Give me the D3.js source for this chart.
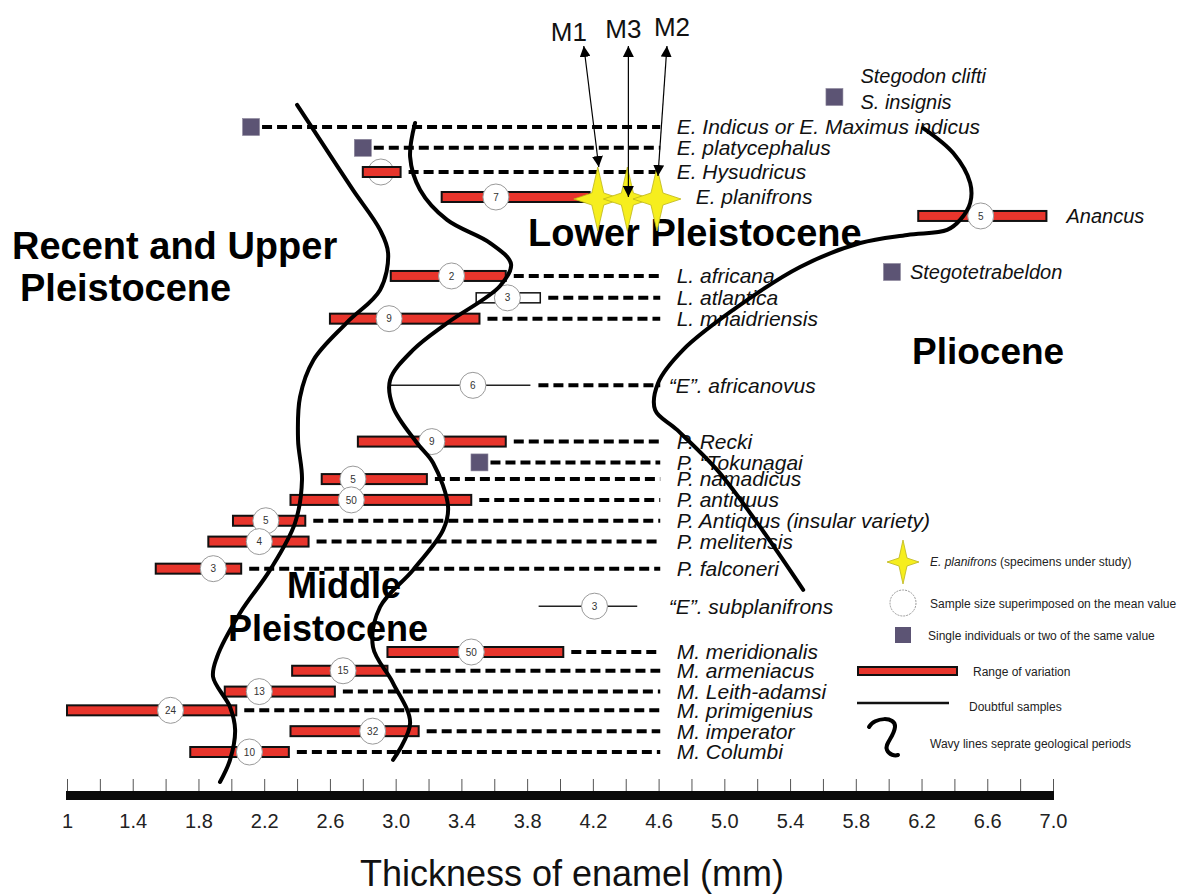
<!DOCTYPE html>
<html>
<head>
<meta charset="utf-8">
<script src="https://cdn.jsdelivr.net/npm/d3@7"></script>
<style>
  body { margin: 0; background: #fff; }
  svg { display: block; font-family: "Liberation Sans", Arial, Helvetica, sans-serif; }
</style>
</head>
<body>
<svg id="chart" width="1199" height="895"></svg>
<script>
// ---- data (enamel thickness, mm) ----
const species = [
  "E. Indicus or E. Maximus indicus", "E. platycephalus", "E. Hysudricus", "E. planifrons",
  "Anancus", "Stegodon clifti|S. insignis", "Stegotetrabeldon",
  "L. africana", "L. atlantica", "L. mnaidriensis", "\u201cE\u201d. africanovus",
  "P. Recki", "P. \u201cTokunagai", "P. namadicus", "P. antiquus", "P. Antiquus (insular variety)",
  "P. melitensis", "P. falconeri", "\u201cE\u201d. subplanifrons",
  "M. meridionalis", "M. armeniacus", "M. Leith-adamsi", "M. primigenius", "M. imperator", "M. Columbi"
];
// vertical order (row units, not evenly spaced in the original)
const rows = [0, 1, 2.16, 3.36, 4.27, -1.44, 6.96, 7.15, 8.2, 9.2, 12.4,
  15.1, 16.1, 16.9, 17.9, 18.9, 19.9, 21.2, 23.0, 25.2, 26.1, 27.1, 28.0, 29.0, 30];
const kinds = ["single", "single", "range", "range", "range", "single", "single",
  "range", "open", "range", "doubtful", "range", "single", "range", "range", "range",
  "range", "range", "doubtful", "range", "range", "range", "range", "range", "range"];
const lows  = [2.12, 2.80, 2.80, 3.28, 6.18, 5.67, 6.02, 2.97, 3.49, 2.60, 2.97,
  2.77, 3.51, 2.55, 2.36, 2.01, 1.86, 1.54, 3.87, 2.95, 2.37, 1.96, 1.00, 2.36, 1.75];
const highs = [2.12, 2.80, 3.03, 4.18, 6.96, 5.67, 6.02, 3.67, 3.88, 3.51, 3.82,
  3.67, 3.51, 3.19, 3.46, 2.45, 2.47, 2.06, 4.47, 4.02, 2.95, 2.63, 2.03, 3.14, 2.35];
const means = [null, null, 2.91, 3.61, 6.56, null, null, 3.34, 3.68, 2.96, 3.47,
  3.22, null, 2.74, 2.73, 2.21, 2.17, 1.89, 4.21, 3.46, 2.68, 2.17, 1.63, 2.86, 2.11];
const sampleSizes = [null, null, 5, 7, 5, null, null, 2, 3, 9, 6,
  9, null, 5, 50, 5, 4, 3, 3, 50, 15, 13, 24, 32, 10];
const hasLeader = [1, 1, 1, 0, 0, 0, 0, 1, 1, 1, 1, 1, 1, 1, 1, 1, 1, 1, 0, 1, 1, 1, 1, 1, 1];
const inlineLabel = [0, 0, 0, 0, 1, 1, 1, 0, 0, 0, 0, 0, 0, 0, 0, 0, 0, 0, 0, 0, 0, 0, 0, 0, 0];

// E. planifrons specimens under study
const studyLabels = ["M1", "M3", "M2"];
const studyValues = [4.23, 4.41, 4.59];

// wavy lines separating geological periods [thickness, row]
const boundaryRecentMiddle = [[2.40, -1.06], [2.54, 0.62], [2.74, 3.02], [2.905, 4.94], [2.954, 6.05],
  [2.905, 7.82], [2.70, 9.41], [2.50, 11.18], [2.418, 12.96], [2.406, 15.02], [2.43, 16.94],
  [2.388, 19.0], [2.236, 21.26], [2.053, 23.33], [1.913, 25.44], [1.889, 26.4], [1.992, 27.84],
  [2.023, 28.94], [1.992, 30.38], [1.931, 31.44]];
const boundaryMiddleLower = [[3.118, -0.19], [3.088, 1.44], [3.149, 3.02], [3.313, 4.46], [3.575, 5.57],
  [3.702, 6.58], [3.635, 7.63], [3.313, 9.41], [3.106, 10.7], [2.966, 12.14], [2.984, 13.44],
  [3.13, 15.17], [3.228, 16.13], [3.319, 18.24], [3.289, 19.34], [3.106, 21.26], [2.905, 23.04],
  [2.862, 24.96], [2.984, 26.69], [3.088, 28.61], [2.984, 30.38]];
const boundaryLowerPliocene = [[6.21, 0.05], [6.393, 1.25], [6.496, 2.69], [6.496, 3.65], [6.435, 4.46],
  [6.356, 4.94], [6.113, 5.18], [5.827, 5.57], [5.461, 6.72], [5.054, 8.78], [4.749, 10.7],
  [4.597, 12.29], [4.579, 13.58], [4.713, 14.54], [4.956, 16.46], [5.2, 19.0], [5.48, 22.22]];

const tickValues = d3.range(0, 31).map(i => 1 + i * 0.2);
const labelValues = [1, 1.4, 1.8, 2.2, 2.6, 3.0, 3.4, 3.8, 4.2, 4.6, 5.0, 5.4, 5.8, 6.2, 6.6, 7.0];
const tickLabels = ["1", "1.4", "1.8", "2.2", "2.6", "3.0", "3.4", "3.8", "4.2", "4.6",
  "5.0", "5.4", "5.8", "6.2", "6.6", "7.0"];

const leaderEnd = 4.61;
const labelStart = 4.71;

// ---- drawing ----
const RED = "#e8352c";
const SQUARE = "#5c5474";
const STAR = "#f6ee1e";

const svg = d3.select("#chart");
const x = d3.scaleLinear().domain([1, 7]).range([67, 1053]);
const y = d3.scaleLinear().domain([0, 30]).range([127, 752]);

const defs = svg.append("defs");
defs.append("marker")
    .attr("id", "head")
    .attr("viewBox", "0 0 10 10")
    .attr("refX", 10).attr("refY", 5)
    .attr("markerWidth", 11).attr("markerHeight", 11)
    .attr("markerUnits", "userSpaceOnUse")
    .attr("orient", "auto-start-reverse")
  .append("path")
    .attr("d", "M0,0 L10,5 L0,10 z")
    .attr("fill", "#000");

const data = species.map((name, i) => ({
  name, row: rows[i], kind: kinds[i], lo: lows[i], hi: highs[i],
  mean: means[i], n: sampleSizes[i], leader: hasLeader[i], inline: inlineLabel[i]
}));

// a short bar hides its circle (as in the original); others sit under the circle
const hiddenCircle = d => x(d.hi) - x(d.lo) < 40;

function drawCircles(sel) {
  const g = sel.selectAll("g")
    .enter().append("g");
  return g;
}

// dashed leaders to the names
svg.append("g")
  .selectAll("line")
  .data(data.filter(d => d.leader))
  .enter().append("line")
    .attr("x1", d => x(d.hi) + (d.kind === "single" ? 11 : 8))
    .attr("x2", x(leaderEnd))
    .attr("y1", d => y(d.row))
    .attr("y2", d => y(d.row))
    .attr("stroke", "#000")
    .attr("stroke-width", 4)
    .attr("stroke-dasharray", "10 5");

// doubtful samples (thin lines)
svg.append("g")
  .selectAll("line")
  .data(data.filter(d => d.kind === "doubtful"))
  .enter().append("line")
    .attr("x1", d => x(d.lo))
    .attr("x2", d => x(d.hi))
    .attr("y1", d => y(d.row))
    .attr("y2", d => y(d.row))
    .attr("stroke", "#222")
    .attr("stroke-width", 1.5);

const circleLayerBelow = svg.append("g");

// ranges of variation
svg.append("g")
  .selectAll("rect")
  .data(data.filter(d => d.kind === "range" || d.kind === "open"))
  .enter().append("rect")
    .attr("x", d => x(d.lo))
    .attr("y", d => y(d.row) - 5)
    .attr("width", d => x(d.hi) - x(d.lo))
    .attr("height", 10)
    .attr("fill", d => d.kind === "open" ? "#fff" : RED)
    .attr("stroke", "#111")
    .attr("stroke-width", d => d.kind === "open" ? 1.5 : 2);

// single individuals
svg.append("g")
  .selectAll("rect")
  .data(data.filter(d => d.kind === "single"))
  .enter().append("rect")
    .attr("x", d => x(d.lo) - 8.5)
    .attr("y", d => y(d.row) - 8.5)
    .attr("width", 17)
    .attr("height", 17)
    .attr("fill", SQUARE)
    .attr("stroke", "#8d889c")
    .attr("stroke-width", 0.6);

const circleLayerAbove = svg.append("g");

// sample size circles on the mean
function addCircles(layer, rowsIn) {
  const c = layer.selectAll("g")
    .data(rowsIn)
    .enter().append("g")
      .attr("transform", d => `translate(${x(d.mean)},${y(d.row)})`);
  c.append("circle")
      .attr("r", 13)
      .attr("fill", "#fff")
      .attr("stroke", "#9a9a9a")
      .attr("stroke-width", 1);
  c.append("text")
      .attr("text-anchor", "middle")
      .attr("dy", "0.36em")
      .style("font-size", "10px")
      .attr("fill", "#333")
      .text(d => d.n);
}
const withMean = data.filter(d => d.mean !== null);
addCircles(circleLayerBelow, withMean.filter(d => hiddenCircle(d)));
addCircles(circleLayerAbove, withMean.filter(d => !hiddenCircle(d)));

// names
const labelNudge = { "E. planifrons": 19 };
svg.append("g")
  .selectAll("text")
  .data(data.filter(d => !d.inline))
  .enter().append("text")
    .attr("x", d => x(labelStart) + (labelNudge[d.name] || 0) + (d.name.startsWith("\u201c") ? -8 : 0))
    .attr("y", d => y(d.row))
    .attr("dy", "0.35em")
    .style("font-size", "21px")
    .style("font-style", "italic")
    .attr("fill", "#111")
    .text(d => d.name);

// names placed right of their mark
data.filter(d => d.inline).forEach(d => {
  const parts = d.name.split("|");
  const gap = d.kind === "single" ? (parts.length > 1 ? 26 : 18) : 20;
  const t = svg.append("text")
    .attr("x", x(d.hi) + gap)
    .attr("y", y(d.row) - (parts.length > 1 ? 21 : 0))
    .style("font-size", "20px")
    .style("font-style", "italic")
    .attr("fill", "#111");
  parts.forEach((p, k) => {
    t.append("tspan")
      .attr("x", x(d.hi) + gap)
      .attr("dy", k === 0 ? "0.35em" : "26px")
      .text(p);
  });
});

// period names
const periodText = [
  { lines: ["Recent and Upper", "Pleistocene"], xs: [12, 20], ys: [259, 301], size: 38 },
  { lines: ["Lower Pleistocene"], xs: [528], ys: [246], size: 38 },
  { lines: ["Pliocene"], xs: [912], ys: [364], size: 37 },
  { lines: ["Middle", "Pleistocene"], xs: [287, 228], ys: [598, 641], size: 36 }
];
periodText.forEach(p => {
  p.lines.forEach((l, i) => {
    svg.append("text")
      .attr("x", p.xs[i])
      .attr("y", p.ys[i])
      .style("font-size", p.size + "px")
      .style("font-weight", "bold")
      .attr("fill", "#000")
      .text(l);
  });
});

// wavy boundaries
const wave = d3.line()
  .x(d => x(d[0]))
  .y(d => y(d[1]))
  .curve(d3.curveCatmullRom.alpha(0.5));
svg.append("g")
  .selectAll("path")
  .data([boundaryRecentMiddle, boundaryMiddleLower, boundaryLowerPliocene])
  .enter().append("path")
    .attr("d", wave)
    .attr("fill", "none")
    .attr("stroke", "#000")
    .attr("stroke-width", 4)
    .attr("stroke-linecap", "round");

// stars for specimens under study
function starPath(w, h, k) {
  return `M0,${-h} L${k},${-k} L${w},0 L${k},${k} L0,${h} L${-k},${k} L${-w},0 L${-k},${-k} Z`;
}
const planRow = rows[species.indexOf("E. planifrons")];
svg.append("g")
  .selectAll("path")
  .data(studyValues)
  .enter().append("path")
    .attr("transform", d => `translate(${x(d)},${y(planRow) + 2})`)
    .attr("d", starPath(24, 32, 6))
    .attr("fill", STAR)
    .attr("stroke", "#bdb51a")
    .attr("stroke-width", 0.8);

// arrows to M1, M3, M2
const topShift = [-14, 1, 10];
const tipShift = [-30, 0, -21];
const nameShift = [-15, -5, 5];
const nameBase = [41, 38, 36];
studyValues.forEach((v, i) => {
  const topX = x(v) + topShift[i];
  svg.append("line")
    .attr("x1", topX).attr("y1", 46)
    .attr("x2", x(v) + 1).attr("y2", y(planRow) + tipShift[i])
    .attr("stroke", "#000")
    .attr("stroke-width", 1.2)
    .attr("marker-start", "url(#head)")
    .attr("marker-end", "url(#head)");
  svg.append("text")
    .attr("x", topX + nameShift[i])
    .attr("y", nameBase[i])
    .attr("text-anchor", "middle")
    .style("font-size", "26px")
    .attr("fill", "#111")
    .text(studyLabels[i]);
});

// x axis: ticks above a thick bar, labels beneath
const axisY = 791;
svg.append("g")
    .attr("transform", `translate(0,${axisY})`)
    .call(d3.axisTop(x).tickValues(tickValues).tickSize(12).tickFormat(""))
    .call(g => g.select(".domain").remove())
    .call(g => g.selectAll("line").attr("stroke", "#555"));
svg.append("rect")
    .attr("x", x(1) - 1)
    .attr("y", axisY)
    .attr("width", x(7) - x(1) + 2)
    .attr("height", 9)
    .attr("fill", "#0a0a0a");
svg.append("g")
    .attr("transform", `translate(0,${axisY + 9})`)
    .call(d3.axisBottom(x).tickValues(labelValues).tickSize(0).tickPadding(14)
      .tickFormat((d, i) => tickLabels[i]))
    .call(g => g.select(".domain").remove())
    .call(g => g.selectAll("text")
      .style("font-size", "20px")
      .style("font-family", "'Liberation Sans', Arial, sans-serif")
      .attr("fill", "#222"));

svg.append("text")
    .attr("x", 572)
    .attr("y", 886)
    .attr("text-anchor", "middle")
    .style("font-size", "36px")
    .attr("fill", "#111")
    .text("Thickness of enamel (mm)");

// legend
const lg = svg.append("g").style("font-size", "12px").attr("fill", "#222");
lg.append("path")
    .attr("transform", "translate(903,562)")
    .attr("d", starPath(16, 22, 4))
    .attr("fill", STAR)
    .attr("stroke", "#bdb51a")
    .attr("stroke-width", 0.8);
const starText = lg.append("text").attr("x", 930).attr("y", 566);
starText.append("tspan").style("font-style", "italic").text("E. planifrons");
starText.append("tspan").text(" (specimens under study)");

lg.append("circle")
    .attr("cx", 903).attr("cy", 603).attr("r", 13)
    .attr("fill", "#fff")
    .attr("stroke", "#999")
    .attr("stroke-dasharray", "2 1");
lg.append("text").attr("x", 930).attr("y", 608).text("Sample size superimposed on the mean value");

lg.append("rect")
    .attr("x", 895).attr("y", 627).attr("width", 16).attr("height", 16)
    .attr("fill", SQUARE);
lg.append("text").attr("x", 928).attr("y", 640).text("Single individuals or two of the same value");

lg.append("rect")
    .attr("x", 858).attr("y", 667).attr("width", 99).attr("height", 8)
    .attr("fill", RED).attr("stroke", "#111").attr("stroke-width", 2);
lg.append("text").attr("x", 973).attr("y", 676).text("Range of variation");

lg.append("line")
    .attr("x1", 857).attr("x2", 949).attr("y1", 703).attr("y2", 703)
    .attr("stroke", "#111").attr("stroke-width", 2.5);
lg.append("text").attr("x", 969).attr("y", 711).text("Doubtful samples");

lg.append("path")
    .attr("d", "M869,727 C874,717 896,716 895,727 C894,737 884,744 887,750 C889,755 895,756 898,755")
    .attr("fill", "none").attr("stroke", "#000").attr("stroke-width", 4)
    .attr("stroke-linecap", "round");
lg.append("text").attr("x", 930).attr("y", 748).text("Wavy lines seprate geological periods");
</script>
</body>
</html>
